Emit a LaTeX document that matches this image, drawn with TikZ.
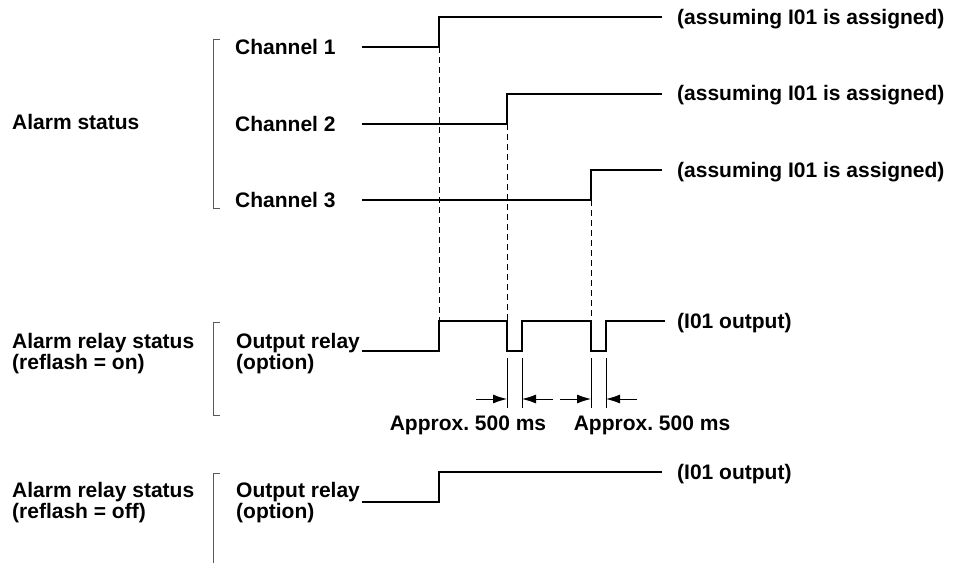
\documentclass[tikz,border=0pt]{standalone}
\usepackage{fontspec}
\setmainfont{Liberation Sans}
\usetikzlibrary{arrows.meta}
\frenchspacing
\begin{document}
\begin{tikzpicture}[x=1pt, y=-1pt, font=\fontsize{21}{24}\selectfont\bfseries,
    lbl/.style={anchor=base west, inner sep=0pt},
    sig/.style={line width=2pt, line join=miter},
    brk/.style={line width=0.8pt, gray!70!black},
    guide/.style={line width=0.9pt, dash pattern=on 6pt off 4pt},
    dim/.style={line width=0.9pt, -{Latex[length=14pt, width=9pt]}}]
    \useasboundingbox (0,0) rectangle (963,565);
    % left labels
    \node[lbl] (alarm) at (12,129) {Alarm status};
    \node[lbl] (relayon) at (12,348) {Alarm relay status};
    \node[lbl] (flashon) at (12,369) {(reflash = on)};
    \node[lbl] (relayoff) at (12,497) {Alarm relay status};
    \node[lbl] (flashoff) at (12,518) {(reflash = off)};
    % brackets
    \draw[brk] (220,39) -- (213,39) -- (213,208) -- (220,208);
    \draw[brk] (220,322) -- (213,322) -- (213,415) -- (220,415);
    \draw[brk] (220,473) -- (213,473) -- (213,563);
    % channel names
    \node[lbl] (ch1) at (235,54) {Channel 1};
    \node[lbl] (ch2) at (235,131) {Channel 2};
    \node[lbl] (ch3) at (235,207) {Channel 3};
    \node[lbl] (outon) at (236,348) {Output relay};
    \node[lbl] (opton) at (236,369) {(option)};
    \node[lbl] (outoff) at (236,497) {Output relay};
    \node[lbl] (optoff) at (236,518) {(option)};
    % right notes
    \node[lbl] (as1) at (677,24) {(assuming I01 is assigned)};
    \node[lbl] (as2) at (677,100) {(assuming I01 is assigned)};
    \node[lbl] (as3) at (677,177) {(assuming I01 is assigned)};
    \node[lbl] (io1) at (677,328) {(I01 output)};
    \node[lbl] (io2) at (677,479) {(I01 output)};
    % edges
    \coordinate (e1) at (439,47);
    \coordinate (e2) at (507,124);
    \coordinate (e3) at (591,200);
    \coordinate (r1) at (439,321);
    \coordinate (r2) at (507,321);
    \coordinate (r3) at (591,321);
    % signals
    \draw[sig] (362,47) -- (e1) -- (439,17) -- (662,17);
    \draw[sig] (362,124) -- (e2) -- (507,94) -- (662,94);
    \draw[sig] (362,200) -- (e3) -- (591,170) -- (662,170);
    \draw[sig] (362,351) -- (439,351) -- (r1) -- (r2) -- (507,351) -- (522,351)
        -- (522,321) -- (r3) -- (591,351) -- (606,351) -- (606,321) -- (665,321);
    \draw[sig] (362,502) -- (439,502) -- (439,472) -- (662,472);
    % guides
    \draw[guide] (e1) -- (r1);
    \draw[guide] (e2) -- (r2);
    \draw[guide] (e3) -- (r3);
    % 500 ms marks
    \foreach \a/\b in {507/522, 591/606} {
        \draw[line width=0.9pt] (\a,358) -- (\a,408);
        \draw[line width=0.9pt] (\b,358) -- (\b,408);
        \draw[dim] (\a-31,399) -- (\a,399);
        \draw[dim] (\b+31,399) -- (\b,399);
    }
    \node[anchor=base, inner sep=0pt] (ap1) at (468,430) {Approx. 500 ms};
    \node[anchor=base, inner sep=0pt] (ap2) at (652,430) {Approx. 500 ms};
\end{tikzpicture}
\end{document}
